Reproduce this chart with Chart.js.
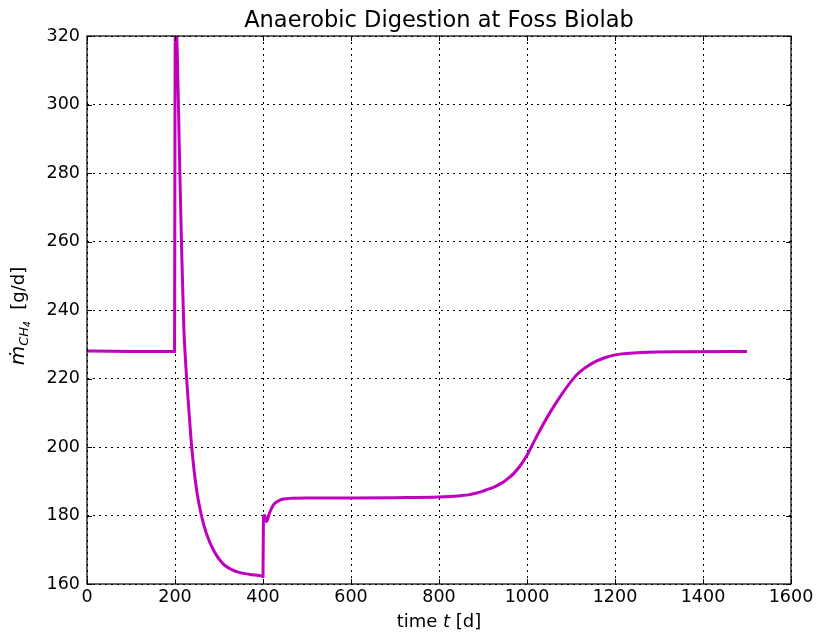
<!DOCTYPE html>
<html>
<head>
<meta charset="utf-8">
<script src="https://cdn.jsdelivr.net/npm/chart.js@4.4.1/dist/chart.umd.min.js"></script>
<style>
    html, body { margin: 0; padding: 0; background: #fff; }
    #wrap { width: 821px; height: 635px; }
</style>
</head>
<body>
<div id="wrap"><canvas id="methane-chart"></canvas></div>
<script>
// time in days
const timeValues = [
    0, 3, 10, 100, 199, 200, 201, 205, 210, 215, 220, 226, 232, 238, 249, 260,
    272, 287, 310, 340, 370, 398, 400, 401, 404, 408, 415, 425, 440, 460, 500,
    600, 700, 800, 850, 870, 880, 900, 910, 925, 940, 950, 960, 970, 985, 1000,
    1020, 1050, 1080, 1105, 1120, 1140, 1160, 1180, 1200, 1260, 1370, 1500
];
// methane mass flow in g/d
const methaneValues = [
    228.3, 228.0, 228.0, 227.9, 227.9, 300, 326, 316, 286, 258, 235, 221, 210, 200, 187.5, 180,
    174.5, 170, 165.8, 163.6, 162.8, 162.3, 162.2, 179.6, 180.0, 178.2, 180.8, 183.3, 184.6, 185.0, 185.1,
    185.1, 185.2, 185.4, 185.8, 186.1, 186.4, 187.1, 187.6, 188.3, 189.3, 190.1, 191.1, 192.3, 194.6, 197.6,
    202.6, 209.6, 215.6, 219.9, 221.9, 223.8, 225.2, 226.2, 226.9, 227.6, 227.8, 227.9
];
const xTicks = [0, 200, 400, 600, 800, 1000, 1200, 1400, 1600];
const yTicks = [160, 180, 200, 220, 240, 260, 280, 300, 320];

const FONT = 'DejaVu Sans';

// draws text pieces one after another, centred on (x, y)
function drawPieces (ctx, pieces, x, y, angle) {
    ctx.save();
    ctx.translate(x, y);
    ctx.rotate(angle);
    ctx.textBaseline = 'alphabetic';
    ctx.textAlign = 'left';
    ctx.fillStyle = '#000';

    let total = 0;
    pieces.forEach(p => {
        ctx.font = p.font;
        p.w = ctx.measureText(p.text).width;
        total += p.w;
    });

    let cx = -total / 2;
    pieces.forEach(p => {
        ctx.font = p.font;
        ctx.fillText(p.text, cx, p.dy || 0);
        cx += p.w;
    });
    ctx.restore();
}

const framePlugin = {
    id: 'frame',
    afterDraw (chart) {
        const { ctx, chartArea: a, scales } = chart;
        ctx.save();
        ctx.strokeStyle = '#000';
        ctx.lineWidth = 1;

        // inward ticks on all four sides
        ctx.beginPath();
        xTicks.forEach(v => {
            const px = Math.round(scales.x.getPixelForValue(v)) + 0.5;
            ctx.moveTo(px, a.bottom);
            ctx.lineTo(px, a.bottom - 5);
            ctx.moveTo(px, a.top);
            ctx.lineTo(px, a.top + 5);
        });
        yTicks.forEach(v => {
            const py = Math.round(scales.y.getPixelForValue(v)) + 0.5;
            ctx.moveTo(a.left, py);
            ctx.lineTo(a.left + 5, py);
            ctx.moveTo(a.right, py);
            ctx.lineTo(a.right - 5, py);
        });
        ctx.stroke();

        ctx.lineWidth = 1.2;
        ctx.strokeRect(a.left, a.top, a.right - a.left, a.bottom - a.top);
        ctx.restore();

        // title and axis labels
        const mid = (a.left + a.right) / 2;
        ctx.save();
        ctx.fillStyle = '#000';
        ctx.textAlign = 'center';
        ctx.textBaseline = 'alphabetic';
        ctx.font = `22.5px ${FONT}`;
        ctx.fillText('Anaerobic Digestion at Foss Biolab', mid, 27);
        ctx.restore();

        drawPieces(ctx, [
            { text: 'time ', font: `18px ${FONT}` },
            { text: 't', font: `italic 18px ${FONT}` },
            { text: ' [d]', font: `18px ${FONT}` }
        ], mid, 627, 0);

        drawPieces(ctx, [
            { text: 'ṁ', font: `italic 20px ${FONT}` },
            { text: 'CH', font: `italic 13px ${FONT}`, dy: 4 },
            { text: '4', font: `italic 9px ${FONT}`, dy: 6 },
            { text: '  [g/d]', font: `18px ${FONT}` }
        ], 24, 316, -Math.PI / 2);
    }
};

const points = timeValues.map((t, i) => ({ x: t, y: methaneValues[i] }));

new Chart(
    document.getElementById('methane-chart'),
    {
        type: 'line',
        data: {
            datasets: [
                {
                    label: 'methane',
                    data: points,
                    borderColor: '#bf00bf',
                    borderWidth: 3,
                    pointRadius: 0,
                    fill: false,
                    cubicInterpolationMode: 'monotone'
                }
            ]
        },
        options: {
            responsive: true,
            maintainAspectRatio: false,
            animation: false,
            layout: {
                padding: { top: 36, right: 30, left: 0, bottom: 0 }
            },
            plugins: {
                legend: { display: false },
                tooltip: { enabled: false }
            },
            scales: {
                x: {
                    type: 'linear',
                    min: 0,
                    max: 1600,
                    afterFit: (scale) => { scale.height = 51; },
                    afterBuildTicks: (scale) => {
                        scale.ticks = xTicks.map(v => ({ value: v }));
                    },
                    ticks: {
                        color: '#000',
                        font: { family: FONT, size: 17.5 },
                        padding: 3,
                        maxRotation: 0,
                        callback: (value) => String(value)
                    },
                    grid: {
                        color: '#000',
                        lineWidth: 1,
                        drawTicks: false
                    },
                    border: { display: false, dash: [2, 4] }
                },
                y: {
                    type: 'linear',
                    min: 160,
                    max: 320,
                    afterFit: (scale) => { scale.width = 87; },
                    afterBuildTicks: (scale) => {
                        scale.ticks = yTicks.map(v => ({ value: v }));
                    },
                    ticks: {
                        color: '#000',
                        font: { family: FONT, size: 17.5 },
                        padding: 7,
                        callback: (value) => String(value)
                    },
                    grid: {
                        color: '#000',
                        lineWidth: 1,
                        drawTicks: false
                    },
                    border: { display: false, dash: [2, 4] }
                }
            }
        },
        plugins: [framePlugin]
    }
);
</script>
</body>
</html>
